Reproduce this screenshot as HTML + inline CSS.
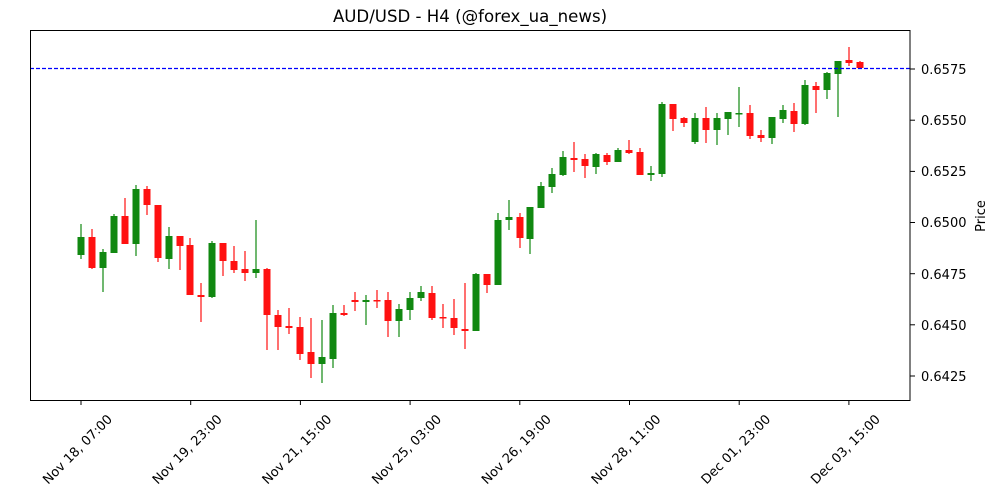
<!DOCTYPE html>
<html><head><meta charset="utf-8"><style>body{margin:0;background:#fff}svg{display:block}text{font-family:"DejaVu Sans","Liberation Sans",sans-serif;fill:#000}</style></head>
<body>
<svg width="1000" height="500" xmlns="http://www.w3.org/2000/svg">
<text x="470" y="22" font-size="16.6" text-anchor="middle">AUD/USD - H4 (@forex_ua_news)</text>
<path stroke="#118811" stroke-width="1.2" fill="none" d="M81 224V259M103 249V292M114 214V253M136 185V256M169 227V269M212 241V298M256 220V278M322 320V383M333 305V368M366 295V325M399 304V337M410 292V320M421 286V301M476 273V331M498 213V285M509 200V230M530 207V254M541 182V208M552 168V193M563 151V176M596 153V174M618 148V162M651 166V181M662 102V177M695 113V144M717 113V145M728 112V135M739 87V127M772 117V144M783 105V123M805 80V125M827 72V99M838 61V117"/>
<g fill="#118811">
<rect x="77.5" y="237" width="7" height="18"/><rect x="99.5" y="252" width="7" height="16"/><rect x="110.5" y="216" width="7" height="37"/><rect x="132.5" y="189" width="7" height="55"/><rect x="165.5" y="236" width="7" height="23"/><rect x="208.5" y="243" width="7" height="54"/><rect x="252.5" y="269" width="7" height="4"/><rect x="318.5" y="357" width="7" height="7"/><rect x="329.5" y="313" width="7" height="46"/><rect x="362.5" y="300" width="7" height="2"/><rect x="395.5" y="309" width="7" height="12"/><rect x="406.5" y="298" width="7" height="12"/><rect x="417.5" y="292" width="7" height="6"/><rect x="472.5" y="274" width="7" height="57"/><rect x="494.5" y="220" width="7" height="65"/><rect x="505.5" y="217" width="7" height="3"/><rect x="526.5" y="207" width="7" height="32"/><rect x="537.5" y="186" width="7" height="22"/><rect x="548.5" y="174" width="7" height="13"/><rect x="559.5" y="157" width="7" height="18"/><rect x="592.5" y="154" width="7" height="13"/><rect x="614.5" y="150" width="7" height="12"/><rect x="647.5" y="173" width="7" height="2"/><rect x="658.5" y="104" width="7" height="70"/><rect x="691.5" y="118" width="7" height="24"/><rect x="713.5" y="118" width="7" height="12"/><rect x="724.5" y="112" width="7" height="7"/><rect x="735.5" y="113" width="7" height="1.5"/><rect x="768.5" y="117" width="7" height="21"/><rect x="779.5" y="110" width="7" height="9"/><rect x="801.5" y="85" width="7" height="39"/><rect x="823.5" y="73" width="7" height="17"/><rect x="834.5" y="61" width="7" height="13"/>
</g>
<path stroke="#ff1111" stroke-width="1.2" fill="none" d="M92 229V269M125 198V244M147 186V215M158 205V262M180 236V270M190 238V295M201 283V322M223 243V276M234 246V273M245 251V281M267 268V350M278 310V350M289 308V334M300 317V360M311 318V378M344 305V316M355 292V311M377 290V308M388 292V337M432 286V320M443 304V328M454 299V335M465 283V349M487 274V293M520 213V248M574 142V172M585 154V178M607 153V165M629 140V154M640 148V175M673 104V131M684 117V127M706 107V143M750 105V139M761 130V142M794 103V132M816 82V113M849 47V66M860 61V69"/>
<g fill="#ff1111">
<rect x="88.5" y="237" width="7" height="31"/><rect x="121.5" y="216" width="7" height="28"/><rect x="143.5" y="189" width="7" height="16"/><rect x="154.5" y="205" width="7" height="53"/><rect x="176.5" y="236" width="7" height="10"/><rect x="186.5" y="245" width="7" height="50"/><rect x="197.5" y="295" width="7" height="2"/><rect x="219.5" y="243" width="7" height="18"/><rect x="230.5" y="261" width="7" height="9"/><rect x="241.5" y="269" width="7" height="4"/><rect x="263.5" y="269" width="7" height="46"/><rect x="274.5" y="315" width="7" height="12"/><rect x="285.5" y="326" width="7" height="2"/><rect x="296.5" y="327" width="7" height="27"/><rect x="307.5" y="352" width="7" height="12"/><rect x="340.5" y="313" width="7" height="2"/><rect x="351.5" y="300" width="7" height="2"/><rect x="373.5" y="300" width="7" height="1.5"/><rect x="384.5" y="300" width="7" height="21"/><rect x="428.5" y="293" width="7" height="25"/><rect x="439.5" y="317" width="7" height="1.5"/><rect x="450.5" y="318" width="7" height="10"/><rect x="461.5" y="329" width="7" height="2"/><rect x="483.5" y="274" width="7" height="11"/><rect x="516.5" y="217" width="7" height="21"/><rect x="570.5" y="158" width="7" height="2"/><rect x="581.5" y="159" width="7" height="7"/><rect x="603.5" y="155" width="7" height="7"/><rect x="625.5" y="150" width="7" height="3"/><rect x="636.5" y="152" width="7" height="23"/><rect x="669.5" y="104" width="7" height="15"/><rect x="680.5" y="118" width="7" height="5"/><rect x="702.5" y="118" width="7" height="12"/><rect x="746.5" y="113" width="7" height="23"/><rect x="757.5" y="135" width="7" height="3"/><rect x="790.5" y="111" width="7" height="13"/><rect x="812.5" y="86" width="7" height="4"/><rect x="845.5" y="60" width="7" height="3"/><rect x="856.5" y="62" width="7" height="6"/>
</g>
<line x1="30" y1="68.5" x2="910" y2="68.5" stroke="#0000ff" stroke-width="1.2" stroke-dasharray="4,2"/>
<rect x="30.5" y="30.5" width="879.5" height="370" fill="none" stroke="#000" stroke-width="1"/>
<g font-size="13">
<g stroke="#000"><line x1="910" x2="915" y1="69" y2="69"/><line x1="910" x2="915" y1="120.2" y2="120.2"/><line x1="910" x2="915" y1="171.4" y2="171.4"/><line x1="910" x2="915" y1="222.5" y2="222.5"/><line x1="910" x2="915" y1="273.7" y2="273.7"/><line x1="910" x2="915" y1="324.8" y2="324.8"/><line x1="910" x2="915" y1="376" y2="376"/></g>
<text x="921" y="74">0.6575</text><text x="921" y="125">0.6550</text><text x="921" y="176">0.6525</text><text x="921" y="227">0.6500</text><text x="921" y="279">0.6475</text><text x="921" y="330">0.6450</text><text x="921" y="381">0.6425</text>
<text transform="translate(985,216) rotate(-90)" text-anchor="middle">Price</text>
<g stroke="#000"><line x1="81" x2="81" y1="400" y2="405"/><line x1="190.7" x2="190.7" y1="400" y2="405"/><line x1="300.4" x2="300.4" y1="400" y2="405"/><line x1="410.1" x2="410.1" y1="400" y2="405"/><line x1="519.8" x2="519.8" y1="400" y2="405"/><line x1="629.5" x2="629.5" y1="400" y2="405"/><line x1="739.2" x2="739.2" y1="400" y2="405"/><line x1="848.9" x2="848.9" y1="400" y2="405"/></g>
<g font-size="13">
<text text-anchor="end" transform="translate(113,420) rotate(-45)">Nov 18, 07:00</text>
<text text-anchor="end" transform="translate(222.7,420) rotate(-45)">Nov 19, 23:00</text>
<text text-anchor="end" transform="translate(332.4,420) rotate(-45)">Nov 21, 15:00</text>
<text text-anchor="end" transform="translate(442.1,420) rotate(-45)">Nov 25, 03:00</text>
<text text-anchor="end" transform="translate(551.8,420) rotate(-45)">Nov 26, 19:00</text>
<text text-anchor="end" transform="translate(661.5,420) rotate(-45)">Nov 28, 11:00</text>
<text text-anchor="end" transform="translate(771.2,420) rotate(-45)">Dec 01, 23:00</text>
<text text-anchor="end" transform="translate(880.9,420) rotate(-45)">Dec 03, 15:00</text>
</g>
</g>
</svg>
</body></html>
